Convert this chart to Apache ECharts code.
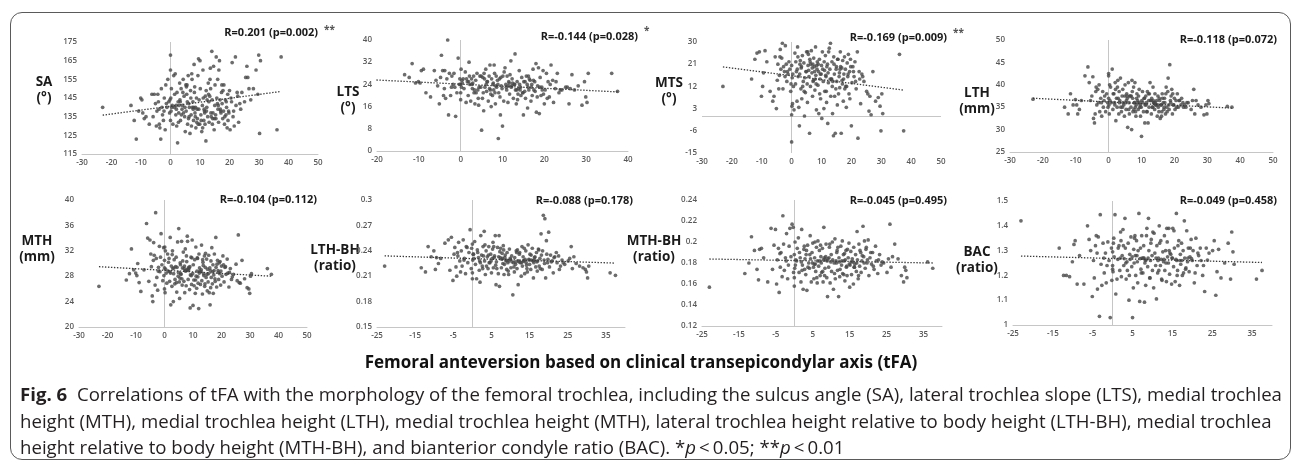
<!DOCTYPE html>
<html>
<head>
<meta charset="utf-8">
<title>Fig. 6</title>
<script src="https://cdn.jsdelivr.net/npm/echarts@6/dist/echarts.min.js"></script>
<style>
  html, body { margin: 0; padding: 0; background: #fff; }
  #frame {
    position: absolute; left: 10px; top: 12px; width: 1281px; height: 448px;
    border: 1.5px solid #5a5a5a; border-radius: 12px; box-sizing: border-box;
  }
  #chart { position: absolute; left: 0; top: 0; width: 1295px; height: 465px; }
  #caption {
    position: absolute; left: 20px; top: 381px;
    font-family: 'Open Sans', sans-serif; font-size: 17.5px; line-height: 26.5px;
    color: #231f20; white-space: nowrap; transform-origin: left top;
  }
  #caption div { display: block; }
  #cap1 { display: inline-block !important; }
</style>
</head>
<body>
<div id="frame"></div>
<div id="chart"></div>
<div id="caption">
  <div id="cap1"><b>Fig. 6</b>&nbsp; Correlations of tFA with the morphology of the femoral trochlea, including the sulcus angle (SA), lateral trochlea slope (LTS), medial trochlea</div>
  <div>height (MTH), medial trochlea height (LTH), medial trochlea height (MTH), lateral trochlea height relative to body height (LTH-BH), medial trochlea</div>
  <div>height relative to body height (MTH-BH), and bianterior condyle ratio (BAC). *<i>p</i>&thinsp;&lt;&thinsp;0.05; **<i>p</i>&thinsp;&lt;&thinsp;0.01</div>
</div>
<script>
// tFA (x) shared by all 8 panels, one value per knee
const tfa = [
  -23, -13.4, -12.3, -11.6, -10.8, -10.1, -9.7, -9.4, -8.9, -8.3,
  -7.2, -6.3, -5.9, -5.5, -5.1, -4.8, -4.6, -4.3, -4.1, -3.8,
  -3.6, -3.3, -3.1, -2.9, -2.7, -2.4, -2.1, -1.8, -1.6, -1.2,
  -0.9, -0.6, -0.3, 0, 0, 0.1, 0.2, 0, 0.6, 0.8,
  1.1, 1.3, 1.6, 1.8, 2.0, 2.2, 2.4, 2.6, 2.8, 3.1,
  3.2, 3.4, 3.6, 3.9, 4.1, 4.3, 4.6, 4.8, 5.0, 5.2,
  5.3, 5.5, 5.8, 6.0, 6.2, 6.3, 6.6, 6.8, 7.0, 7.1,
  7.3, 7.4, 7.6, 7.8, 8.0, 8.1, 8.3, 8.6, 8.8, 9.0,
  9.1, 9.3, 9.5, 9.7, 10.0, 10.1, 10.3, 10.6, 10.8, 11.0,
  11.1, 11.3, 11.5, 11.7, 12.0, 12.1, 12.3, 12.6, 12.8, 13.0,
  13.1, 13.3, 13.5, 13.7, 14.0, 14.1, 14.3, 14.6, 14.8, 15.0,
  15.1, 15.3, 15.5, 15.7, 16.0, 16.1, 16.3, 16.6, 16.8, 17.0,
  17.1, 17.3, 17.5, 17.7, 18.0, 18.1, 18.3, 18.6, 18.8, 19.0,
  19.2, 19.4, 19.7, 20.0, 20.2, 20.5, 20.9, 21.2, 21.6, 22.0,
  22.2, 22.6, 23.1, 23.5, 24.2, 25.1, 25.9, 26.2, 26.6, 27.2,
  28.1, 29.0, 29.6, 29.9, 30.2, 30.5, 36.1, 37.5, 7.9, 12.2,
  0.4, 1.9, 4.4, 5.7, 8.9, 11.4, 13.8, 15.9, 18.9, 6.9,
  -2.2, 2.9, 4.9, 8.4, 9.9, 12.9, 14.9, 16.9, 19.8, 23.8,
  1.4, 3.7, 5.6, 7.7, 9.4, 11.8, 13.4, 15.4, 17.8, 21.4,
  -1.4, 2.1, 4.2, 6.4, 8.2, 10.4, 12.4, 14.4, 16.4, 18.4,
  0.3, 3.3, 6.1, 7.2, 9.6, 10.9, 13.6, 16.2, 19.5, 22.8,
  -3.9, -0.2, 2.7, 5.4, 8.5, 11.6, 14.2, 17.4, 20.7, 25.5
];

const sa = [
  140, 141, 133, 123, 138, 145, 144, 137, 134, 135,
  131, 147, 135, 147, 142, 130, 138, 147, 143, 131,
  129, 123, 150, 140, 136, 133, 145, 128, 152, 140,
  155, 143, 137, 168, 160, 145, 138, 133, 141, 131,
  157, 140, 158, 136, 139, 148, 121, 143, 137, 153,
  144, 133, 150, 139, 141, 155, 146, 135, 127, 152,
  138, 147, 131, 157, 142, 135, 126, 149, 136, 130,
  155, 140, 143, 133, 163, 148, 137, 129, 145, 139,
  134, 157, 166, 144, 165, 150, 136, 127, 141, 160,
  145, 133, 138, 131, 122, 149, 140, 135, 153, 143,
  132, 146, 161, 137, 170, 144, 134, 162, 128, 141,
  152, 136, 167, 145, 155, 139, 132, 165, 144, 138,
  137, 148, 142, 134, 138, 152, 131, 144, 136, 140,
  129, 147, 138, 149, 128, 145, 164, 135, 130, 167,
  141, 148, 132, 142, 148, 143, 162, 156, 150, 144,
  150, 160, 147, 168, 126, 165, 128, 167, 140, 138,
  140, 141, 137, 143, 132, 139, 135, 142, 143, 145,
  138, 141, 140, 135, 131, 147, 134, 139, 137, 139,
  147, 136, 152, 139, 131, 146, 155, 134, 149, 138,
  142, 130, 148, 140, 151, 133, 144, 137, 160, 135,
  150, 143, 134, 158, 139, 129, 150, 141, 133, 146,
  139, 144, 132, 151, 140, 137, 131, 152, 143, 156
];

const lts = [
  24, 27.5, 26.5, 31.5, 24.5, 25, 24.5, 29, 29.5, 21,
  19.5, 29, 25.5, 23.5, 17, 26.5, 34.5, 29, 20, 29,
  19, 26, 40, 13, 28, 20, 27, 24, 28, 12.5,
  21, 33.5, 24, 24, 18.5, 29.5, 23, 21, 26, 22.5,
  28.5, 17.5, 25, 20, 32, 24, 18, 26, 22.5, 27,
  21, 17, 25.5, 28, 22, 16.5, 27, 23, 7.5, 19,
  26.5, 14.5, 23, 29.5, 21.5, 25, 18, 27, 31, 22,
  16, 26, 20, 24.5, 31, 28, 17, 23, 25.5, 4.5,
  21, 26, 13, 23.5, 9, 27, 18, 30, 24, 22,
  27, 17.5, 25, 20.5, 32.5, 23, 26, 19, 24, 35,
  22, 17, 25, 20.5, 29, 24, 23, 26.5, 21, 13,
  25, 21.5, 19, 27, 15.5, 23, 22, 25.5, 18, 24,
  20, 29.5, 22, 25, 31.5, 14, 19.5, 30, 13.5, 26.5,
  20, 23, 29, 17, 22, 28, 25, 19.5, 31, 25.5,
  17.5, 22.5, 28, 21, 22, 23, 17, 22.5, 27.5, 22,
  23.5, 16.5, 25, 19.5, 17.5, 28, 28, 21.5, 22, 23.5,
  24.5, 25, 23, 26, 24, 23.5, 22.5, 24, 23, 22.5,
  23, 24.5, 27, 23.5, 22.5, 24, 21, 23, 20.5, 22,
  26, 21, 28, 24, 19.5, 27.5, 22, 25, 21.5, 24,
  23, 27, 19, 25, 21, 28.5, 24.5, 20, 26, 23.5,
  25.5, 22, 24, 20.5, 26.5, 23, 18.5, 27, 22, 25,
  22.5, 26, 24, 21, 27, 24.5, 22, 25.5, 19, 23
];

const mts = [
  12, 15, 23, 25.5, 26, 8, 12, 17.5, 26.5, 22,
  10, 6, 8, 24, 3, 14.5, 21, 11, 16.5, 27,
  19, 23.5, 29.5, 11, 20, 18, 28.5, 21, 14, 17,
  22, 19, 10, -10.5, 0.5, 4, 15.5, 20.5, 12, 2.5,
  25.5, 13, 18, 6, 28, 16, 3.5, -4, 21, 11,
  19.5, 7, 24.5, 14, 21.5, 0, 9.5, 18, 26, 13,
  5.5, 20.5, 16, -7, 22, 12, 26.5, 17.5, 8, 21,
  14.5, 23.5, 20, 10.5, 28, 16.5, 2.5, 22, 12.5, 18,
  1, 23, 15, 7, 20.5, -1, 26, 14, 3, 18.5,
  10, 24.5, 16, 5.5, 21, -3, 13.5, 27.5, 19, 29.5,
  8, 15, 22, 1, -8, 24, 17, -7, 11, 20,
  14, 4.5, 23, 9, 17.5, 11.5, 26, -7, 19.5, 13,
  22.5, 6, 17, 24, 19, 12, 3.5, 21.5, 16, 25,
  9, 18, 23, -4, 13.5, 20, 16, 22, 11, 26,
  -9, 18, 5, 17, 14, 10, 2, 8, 0.5, 18,
  6, 7.5, 4, -6, 9, 1, 25, -6, 15, 17.5,
  17, 19, 15.5, 18.5, 21, 16.5, 14, 16, 17, 19.5,
  16, 22.5, 18, 20.5, 17, 15, 19, 14.5, 20, 16,
  22, 12, 25, 18, 9, 20, 15, 23, 11, 14,
  18, 24, 10, 21, 13, 19, 26, 8, 20, 12,
  5, 20, 23, 14, 17, 22, 12, 19, 7, 15,
  24, 13, 17, 26, 19, 10, 21, 15, 18, 9
];

const lth = [
  36.8, 35, 33.5, 38, 35.5, 36.7, 35.5, 33.5, 34.5, 36.5,
  42, 44, 40.5, 36.5, 37.5, 41.8, 32.5, 31.5, 33.5, 39.5,
  35.5, 39, 36, 40, 34, 37, 33, 38.5, 35, 37.5,
  34, 38, 36, 42.5, 42, 35.5, 33.5, 37, 39.5, 36,
  43.5, 34.5, 38, 36, 40.5, 32, 37, 35, 41, 33.5,
  38.5, 36.5, 41.5, 34, 37.5, 39, 35.5, 33, 40, 36,
  34.5, 38, 30.5, 40.5, 36, 33.5, 37.5, 35, 30, 41,
  37, 34, 39.5, 36, 40.5, 35, 33, 38, 36.5, 34.5,
  37.5, 39, 35, 33, 28.5, 36.5, 38.5, 34, 37, 31.5,
  35.5, 37.5, 36, 34, 31.5, 38, 35, 40.5, 36.5, 33.5,
  37, 35, 39.5, 36, 34.5, 38, 35.5, 36.5, 33, 37.5,
  35, 34, 36.5, 32.5, 35.5, 33, 38, 36, 34.5, 37,
  36, 33.5, 39.5, 35, 38.5, 41.5, 35.5, 44.5, 36.5, 37.5,
  39, 33.5, 35.5, 37, 34.5, 36.5, 38, 35, 36.5, 35.5,
  37, 36, 35.5, 35, 36, 34.5, 39, 33.5, 36.5, 35.5,
  35, 33.3, 35.5, 33.5, 36.5, 35.8, 35.2, 35, 36, 36.5,
  36.5, 35.5, 36, 37, 36, 35.5, 36, 35.5, 36, 37.5,
  36, 37, 37.5, 35.5, 35, 36.5, 35.5, 35, 35.5, 36,
  38, 35, 37.5, 34.5, 36, 38.5, 35, 37, 34, 36.5,
  36.5, 39, 35, 37.5, 34, 36, 38, 35.5, 37, 34.5,
  40, 36, 34.5, 38.5, 35.5, 37, 36.5, 34, 38, 35,
  38.5, 35, 39.5, 36.5, 37, 34, 36, 38, 35, 36.5
];

const mth = [
  26.4, 27.4, 28.4, 32.3, 29, 28.5, 28.1, 30, 27, 25.6,
  29, 36.3, 34, 27.2, 33.7, 31.5, 29.5, 24.9, 24, 33.3,
  31.3, 26.6, 38, 30.8, 27.8, 25.8, 29.4, 32.7, 28.7, 34.7,
  29.8, 27.3, 32.5, 26, 29.3, 32.6, 25.4, 30.5, 28.5, 26.9,
  31.5, 28.8, 30.8, 27.2, 34.1, 23.5, 29.6, 26.4, 32, 24,
  28.4, 30.6, 26.8, 29.5, 31, 25.5, 33.4, 28, 35.5, 27.1,
  24.5, 30.1, 28.3, 33.5, 26.6, 29.3, 31.8, 27.2, 29.6, 25.4,
  32.3, 28.8, 26.5, 30.3, 34.3, 33.5, 27.5, 29.2, 25.9, 23,
  28.2, 31, 26.7, 33.7, 23.4, 29.8, 27.4, 30.6, 25.3, 32.6,
  28, 26.1, 30.9, 27.9, 22.9, 31.5, 29.3, 26.7, 28.7, 32.9,
  27.3, 25.2, 30.2, 28.4, 31.2, 26.4, 29.4, 27.8, 30.7, 25.7,
  29.1, 27.1, 31.3, 25.4, 23.5, 28.9, 30.4, 32.5, 26.8, 29.8,
  25.3, 28.2, 31.5, 27.6, 34.1, 29.4, 26.3, 30.5, 28.9, 27.5,
  30.1, 28.4, 26.6, 29.6, 28, 31.2, 27.1, 29.4, 28.3, 30.7,
  28.5, 26.3, 29.2, 27.5, 28.3, 29.9, 34.5, 27, 26.9, 30.5,
  27.6, 26.2, 26, 25.3, 28, 28.4, 29.2, 28.3, 29, 28.5,
  29.1, 28.7, 29.4, 28.4, 29.5, 28.8, 28.1, 29.3, 28.6, 29.2,
  28.8, 29.2, 28.6, 28.9, 28.4, 29, 28.3, 28.7, 28.8, 27.9,
  30.2, 27.5, 29.8, 31.2, 28.1, 26.9, 30.6, 28.4, 27.2, 29.5,
  31, 28.5, 27, 30.4, 29.1, 26.5, 28.8, 31.6, 27.8, 29.9,
  32, 29.3, 27.6, 28.9, 30.9, 27.4, 29.7, 26.2, 30.3, 28.6,
  30.5, 28.1, 31.4, 27.7, 29.4, 30.8, 26.8, 28.9, 29.8, 27.3
];

const lthBh = [
  0.222, 0.22, 0.215, 0.245, 0.233, 0.24, 0.218, 0.232, 0.225, 0.231,
  0.249, 0.253, 0.217, 0.256, 0.205, 0.236, 0.244, 0.221, 0.21, 0.234,
  0.25, 0.228, 0.215, 0.24, 0.222, 0.253, 0.231, 0.213, 0.245, 0.226,
  0.238, 0.265, 0.219, 0.207, 0.248, 0.229, 0.236, 0.214, 0.251, 0.224,
  0.207, 0.241, 0.232, 0.217, 0.203, 0.258, 0.235, 0.222, 0.245, 0.263,
  0.228, 0.212, 0.24, 0.233, 0.219, 0.245, 0.226, 0.236, 0.214, 0.231,
  0.242, 0.22, 0.234, 0.258, 0.2, 0.227, 0.244, 0.213, 0.258, 0.198,
  0.232, 0.243, 0.22, 0.237, 0.225, 0.246, 0.212, 0.235, 0.228, 0.218,
  0.238, 0.226, 0.212, 0.242, 0.23, 0.22, 0.234, 0.188, 0.226, 0.215,
  0.232, 0.224, 0.24, 0.219, 0.2, 0.228, 0.236, 0.226, 0.21, 0.245,
  0.222, 0.233, 0.228, 0.213, 0.24, 0.226, 0.219, 0.247, 0.23, 0.224,
  0.236, 0.218, 0.229, 0.243, 0.208, 0.226, 0.232, 0.221, 0.238, 0.216,
  0.228, 0.242, 0.222, 0.231, 0.26, 0.235, 0.218, 0.282, 0.229, 0.278,
  0.208, 0.252, 0.226, 0.262, 0.221, 0.235, 0.228, 0.214, 0.233, 0.238,
  0.226, 0.234, 0.222, 0.229, 0.224, 0.228, 0.245, 0.219, 0.233, 0.225,
  0.222, 0.22, 0.218, 0.215, 0.208, 0.222, 0.214, 0.211, 0.231, 0.227,
  0.231, 0.228, 0.226, 0.232, 0.229, 0.227, 0.23, 0.228, 0.225, 0.233,
  0.229, 0.234, 0.228, 0.224, 0.231, 0.226, 0.229, 0.227, 0.23, 0.226,
  0.238, 0.222, 0.245, 0.23, 0.216, 0.241, 0.228, 0.235, 0.219, 0.232,
  0.244, 0.226, 0.235, 0.219, 0.241, 0.227, 0.238, 0.215, 0.233, 0.24,
  0.236, 0.247, 0.223, 0.239, 0.228, 0.221, 0.243, 0.229, 0.236, 0.218,
  0.238, 0.243, 0.219, 0.25, 0.232, 0.238, 0.223, 0.241, 0.227, 0.231
];

const mthBh = [
  0.157, 0.17, 0.18, 0.205, 0.192, 0.174, 0.164, 0.193, 0.194, 0.185,
  0.162, 0.213, 0.174, 0.197, 0.212, 0.16, 0.183, 0.194, 0.152, 0.176,
  0.19, 0.167, 0.225, 0.198, 0.173, 0.185, 0.208, 0.165, 0.178, 0.213,
  0.186, 0.217, 0.214, 0.166, 0.188, 0.175, 0.2, 0.158, 0.182, 0.194,
  0.204, 0.171, 0.185, 0.162, 0.212, 0.178, 0.155, 0.193, 0.174, 0.169,
  0.188, 0.154, 0.197, 0.18, 0.175, 0.206, 0.162, 0.19, 0.199, 0.176,
  0.165, 0.185, 0.172, 0.195, 0.161, 0.182, 0.177, 0.192, 0.168, 0.197,
  0.18, 0.171, 0.194, 0.162, 0.214, 0.185, 0.175, 0.198, 0.166, 0.148,
  0.184, 0.176, 0.195, 0.161, 0.188, 0.172, 0.2, 0.155, 0.18, 0.203,
  0.165, 0.182, 0.19, 0.173, 0.148, 0.185, 0.167, 0.196, 0.178, 0.201,
  0.17, 0.188, 0.182, 0.163, 0.192, 0.176, 0.168, 0.185, 0.199, 0.157,
  0.178, 0.191, 0.169, 0.184, 0.16, 0.195, 0.176, 0.188, 0.172, 0.21,
  0.183, 0.165, 0.198, 0.177, 0.19, 0.171, 0.182, 0.215, 0.186, 0.201,
  0.175, 0.193, 0.18, 0.202, 0.168, 0.185, 0.179, 0.19, 0.174, 0.196,
  0.182, 0.17, 0.188, 0.178, 0.18, 0.171, 0.217, 0.176, 0.186, 0.198,
  0.184, 0.168, 0.162, 0.176, 0.173, 0.166, 0.181, 0.175, 0.183, 0.181,
  0.183, 0.181, 0.184, 0.179, 0.182, 0.18, 0.183, 0.181, 0.18, 0.182,
  0.182, 0.184, 0.18, 0.183, 0.181, 0.182, 0.179, 0.18, 0.183, 0.181,
  0.19, 0.176, 0.2, 0.172, 0.185, 0.195, 0.169, 0.181, 0.192, 0.177,
  0.196, 0.173, 0.188, 0.201, 0.168, 0.183, 0.174, 0.193, 0.179, 0.187,
  0.178, 0.192, 0.166, 0.186, 0.198, 0.17, 0.189, 0.176, 0.195, 0.183,
  0.189, 0.171, 0.196, 0.179, 0.186, 0.192, 0.177, 0.168, 0.19, 0.184
];

const bac = [
  1.42, 1.31, 1.2, 1.2, 1.195, 1.255, 1.325, 1.34, 1.165, 1.28,
  1.165, 1.4, 1.345, 1.3, 1.115, 1.26, 1.19, 1.32, 1.36, 1.145,
  1.355, 1.035, 1.445, 1.245, 1.16, 1.33, 1.21, 1.29, 1.17, 1.335,
  1.26, 1.03, 1.31, 1.225, 1.295, 1.215, 1.33, 1.24, 1.445, 1.125,
  1.185, 1.265, 1.32, 1.22, 1.375, 1.195, 1.28, 1.385, 1.24, 1.43,
  1.31, 1.185, 1.255, 1.33, 1.1, 1.285, 1.355, 1.235, 1.03, 1.15,
  1.305, 1.35, 1.2, 1.34, 1.255, 1.17, 1.45, 1.095, 1.31, 1.225,
  1.36, 1.27, 1.21, 1.32, 1.092, 1.25, 1.16, 1.39, 1.235, 1.43,
  1.3, 1.19, 1.26, 1.345, 1.22, 1.375, 1.15, 1.29, 1.24, 1.105,
  1.32, 1.21, 1.27, 1.4, 1.24, 1.34, 1.185, 1.295, 1.255, 1.36,
  1.22, 1.3, 1.175, 1.335, 1.25, 1.39, 1.205, 1.285, 1.165, 1.27,
  1.39, 1.235, 1.31, 1.175, 1.45, 1.26, 1.22, 1.34, 1.16, 1.285,
  1.245, 1.33, 1.2, 1.3, 1.42, 1.27, 1.225, 1.38, 1.255, 1.31,
  1.215, 1.275, 1.345, 1.26, 1.3, 1.17, 1.35, 1.24, 1.28, 1.31,
  1.26, 1.2, 1.135, 1.31, 1.29, 1.3, 1.12, 1.215, 1.305, 1.19,
  1.25, 1.33, 1.185, 1.375, 1.295, 1.245, 1.185, 1.22, 1.27, 1.265,
  1.275, 1.27, 1.265, 1.28, 1.27, 1.26, 1.275, 1.265, 1.27, 1.268,
  1.27, 1.268, 1.275, 1.262, 1.28, 1.265, 1.27, 1.26, 1.268, 1.262,
  1.31, 1.22, 1.36, 1.27, 1.19, 1.33, 1.25, 1.38, 1.21, 1.29,
  1.24, 1.34, 1.2, 1.3, 1.26, 1.37, 1.18, 1.29, 1.32, 1.23,
  1.35, 1.25, 1.28, 1.21, 1.33, 1.27, 1.39, 1.2, 1.31, 1.24,
  1.29, 1.18, 1.32, 1.25, 1.36, 1.22, 1.3, 1.26, 1.21, 1.34
];

// linear trendlines (Excel), value at the lowest and highest tFA
const trendX = [-23, 37.5];
const saTrend = [135.8, 148.5];
const ltsTrend = [25.8, 21.3];
const mtsTrend = [19.9, 10.5];
const lthTrend = [37.0, 34.8];
const mthTrend = [29.5, 28.0];
const lthBhTrend = [0.234, 0.2255];
const mthBhTrend = [0.1838, 0.180];
const bacTrend = [1.278, 1.252];

// tick labels
const xTicks30 = [-30, -20, -10, 0, 10, 20, 30, 40, 50];
const xTicks20 = [-20, -10, 0, 10, 20, 30, 40];
const xTicks25 = [-25, -15, -5, 5, 15, 25, 35];
const saTicks = [115, 125, 135, 145, 155, 165, 175];
const ltsTicks = [0, 8, 16, 24, 32, 40];
const mtsTicks = [-15, -6, 3, 12, 21, 30];
const lthTicks = [25, 30, 35, 40, 45, 50];
const mthTicks = [20, 24, 28, 32, 36, 40];
const lthBhTicks = [0.15, 0.18, 0.21, 0.24, 0.27, 0.3];
const mthBhTicks = [0.12, 0.14, 0.16, 0.18, 0.2, 0.22, 0.24];
const bacTicks = [1, 1.1, 1.2, 1.3, 1.4, 1.5];

const rLabels = ['R=0.201 (p=0.002)', 'R=-0.144 (p=0.028)', 'R=-0.169 (p=0.009)', 'R=-0.118 (p=0.072)',
  'R=-0.104 (p=0.112)', 'R=-0.088 (p=0.178)', 'R=-0.045 (p=0.495)', 'R=-0.049 (p=0.458)'];
const yNames = ['SA\n(°)', 'LTS\n(°)', 'MTS\n(°)', 'LTH\n(mm)', 'MTH\n(mm)', 'LTH-BH\n(ratio)', 'MTH-BH\n(ratio)', 'BAC\n(ratio)'];
const xTitle = 'Femoral anteversion based on clinical transepicondylar axis (tFA)';

const FONT = "'Open Sans', sans-serif";

const panels = [
  { y: sa, trend: saTrend, xt: xTicks30, xMax: 50, yt: saTicks,
    grid: { left: 82, top: 42, width: 236, height: 112 }, nx: 44, ny: 90, rx: 318, ry: 33 },
  { y: lts, trend: ltsTrend, xt: xTicks20, xMax: 40, yt: ltsTicks,
    grid: { left: 377, top: 40, width: 251, height: 111 }, nx: 348, ny: 100, rx: 638, ry: 37 },
  { y: mts, trend: mtsTrend, xt: xTicks30, xMax: 50, yt: mtsTicks, zeroLine: true,
    grid: { left: 702, top: 42, width: 239, height: 111 }, nx: 669, ny: 91, rx: 947, ry: 38 },
  { y: lth, trend: lthTrend, xt: xTicks30, xMax: 50, yt: lthTicks,
    grid: { left: 1010, top: 40, width: 263, height: 112 }, nx: 977, ny: 101, rx: 1277, ry: 40 },
  { y: mth, trend: mthTrend, xt: xTicks30, xMax: 50, yt: mthTicks,
    grid: { left: 79, top: 200, width: 228, height: 127 }, nx: 37, ny: 249, rx: 317, ry: 200 },
  { y: lthBh, trend: lthBhTrend, xt: xTicks25, xMax: 40, yt: lthBhTicks,
    grid: { left: 377, top: 200, width: 248, height: 127 }, nx: 335, ny: 258, rx: 633, ry: 201 },
  { y: mthBh, trend: mthBhTrend, xt: xTicks25, xMax: 40, yt: mthBhTicks,
    grid: { left: 702, top: 200, width: 240, height: 126 }, nx: 654, ny: 249, rx: 947, ry: 201 },
  { y: bac, trend: bacTrend, xt: xTicks25, xMax: 40, yt: bacTicks,
    grid: { left: 1013, top: 201, width: 259, height: 124 }, nx: 977, ny: 260, rx: 1277, ry: 201 }
];

const tickLabel = { color: '#595959', fontSize: 8, fontWeight: 600, fontFamily: FONT };
const axisGray = '#c6c6c6';

const grids = [], xAxes = [], yAxes = [], series = [], graphics = [];

panels.forEach((p, i) => {
  grids.push(Object.assign({ containLabel: false }, p.grid));
  xAxes.push({
    type: 'value', gridIndex: i, min: p.xt[0], max: p.xMax,
    axisLine: { show: !p.zeroLine, onZero: false, lineStyle: { color: axisGray, width: 1 } },
    axisTick: { show: false }, splitLine: { show: false },
    axisLabel: Object.assign({ customValues: p.xt, margin: 5 }, tickLabel)
  });
  yAxes.push({
    type: 'value', gridIndex: i, min: p.yt[0], max: p.yt[p.yt.length - 1],
    axisLine: { show: false }, axisTick: { show: false }, splitLine: { show: false },
    axisLabel: Object.assign({ customValues: p.yt, margin: 5 }, tickLabel)
  });
  const zeroData = [{ xAxis: 0 }];
  if (p.zeroLine) zeroData.push({ yAxis: 0 });
  series.push({
    type: 'scatter', xAxisIndex: i, yAxisIndex: i, clip: true,
    data: tfa.map((x, k) => [x, p.y[k]]),
    symbol: 'circle', symbolSize: 3.7,
    itemStyle: { color: '#474747' }, z: 3,
    markLine: {
      silent: true, symbol: ['none', 'none'], label: { show: false },
      lineStyle: { color: axisGray, width: 1, type: 'solid' }, z: 1,
      data: zeroData
    }
  });
  series.push({
    type: 'line', xAxisIndex: i, yAxisIndex: i, clip: true,
    data: trendX.map((x, k) => [x, p.trend[k]]),
    symbol: 'none', z: 4,
    lineStyle: { color: '#3a3a3a', width: 1.3, type: [1.4, 1.6] }
  });
  graphics.push({
    type: 'text', x: p.rx, y: p.ry,
    style: { text: rLabels[i], fill: '#1a1a1a', fontSize: 11, fontWeight: 'bold', fontFamily: FONT,
      align: 'right', verticalAlign: 'middle', textAlign: 'right', textVerticalAlign: 'middle' }
  });
  graphics.push({
    type: 'text', x: p.nx, y: p.ny,
    style: { text: yNames[i], fill: '#1a1a1a', fontSize: 13.5, fontWeight: 'bold', fontFamily: FONT,
      lineHeight: 16, align: 'center', verticalAlign: 'middle', textAlign: 'center', textVerticalAlign: 'middle' }
  });
});

// significance stars next to the first three panels
[['**', 324, 30], ['*', 644, 31], ['**', 953, 33]].forEach(s => {
  graphics.push({
    type: 'text', x: s[1], y: s[2],
    style: { text: s[0], fill: '#555', fontSize: 10, fontWeight: 'bold', fontFamily: FONT,
      align: 'left', verticalAlign: 'middle', textAlign: 'left', textVerticalAlign: 'middle' }
  });
});

graphics.push({
  type: 'text', x: 641, y: 363,
  style: { text: xTitle, fill: '#111', fontSize: 17, fontWeight: 'bold', fontFamily: FONT,
    align: 'center', verticalAlign: 'middle', textAlign: 'center', textVerticalAlign: 'middle' }
});

const chart = echarts.init(document.getElementById('chart'));
chart.setOption({
  animation: false,
  grid: grids,
  xAxis: xAxes,
  yAxis: yAxes,
  series: series,
  graphic: graphics
});

// condense the caption horizontally so its first line ends where the original's does
const cap1 = document.getElementById('cap1');
const cap = document.getElementById('caption');
const w = cap1.getBoundingClientRect().width;
if (w > 0) cap.style.transform = 'scaleX(' + (1262 / w).toFixed(4) + ')';
</script>
</body>
</html>
